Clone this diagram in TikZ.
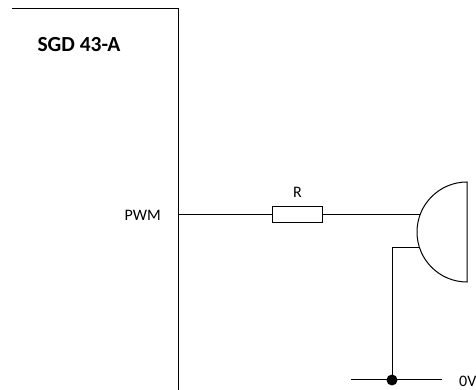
\documentclass[tikz,border=0pt]{standalone}
\usepackage{fontspec}
\setmainfont{Carlito}
\usetikzlibrary{positioning}

\begin{document}
\begin{tikzpicture}[
    x = 1pt, y = 1pt,
    wire/.style = {line width=1pt, black},
    lbl/.style = {rectangle, draw=none, inner sep=0pt, font=\fontsize{16}{18}\selectfont},
    title/.style = {rectangle, draw=none, inner sep=0pt, font=\fontsize{21.5}{24}\selectfont\bfseries},
    resistor/.style = {rectangle, draw, line width=1pt, fill=white, inner sep=0pt, minimum width=49.5pt, minimum height=16.5pt},
    junction/.style = {circle, fill=black, inner sep=0pt, minimum size=11pt}
    ]
    \useasboundingbox (0,0) rectangle (476,390);
    %
    \coordinate (BoxStart) at (12,381);
    \coordinate (BoxCorner) at (178,381);
    \coordinate (BoxEnd) at (178,0);
    \coordinate (PwmPin) at (178,175.5);
    \coordinate (HornTop) at (467,208);
    \coordinate (HornBottom) at (467,108);
    \coordinate (HornIn) at (420,175.5);
    \coordinate (HornOut) at (420,142);
    \coordinate (GndLeft) at (351,10);
    \coordinate (GndRight) at (442,10);
    %
    \node (Title) [title] at (79,345) {SGD 43-A};
    \node (Pwm) [lbl, anchor=east] at (161,174.5) {PWM};
    \node (Res) [resistor] at (297.5,175.5) {};
    \node (ResLbl) [lbl, above=8pt of Res] {R};
    \node (Gnd) [junction] at (392,10) {};
    \node (GndLbl) [lbl, anchor=west] at (459,9) {0V};
    %
    \draw[wire] (BoxStart) -- (BoxCorner) -- (BoxEnd);
    \draw[wire] (PwmPin) -- (Res.west);
    \draw[wire] (Res.east) -- (HornIn);
    \draw[wire] (HornTop) -- (HornBottom) arc[start angle=270, end angle=90, radius=50] -- cycle;
    \draw[wire] (HornOut) -| (Gnd.center);
    \draw[wire] (GndLeft) -- (GndRight);
\end{tikzpicture}
\end{document}
